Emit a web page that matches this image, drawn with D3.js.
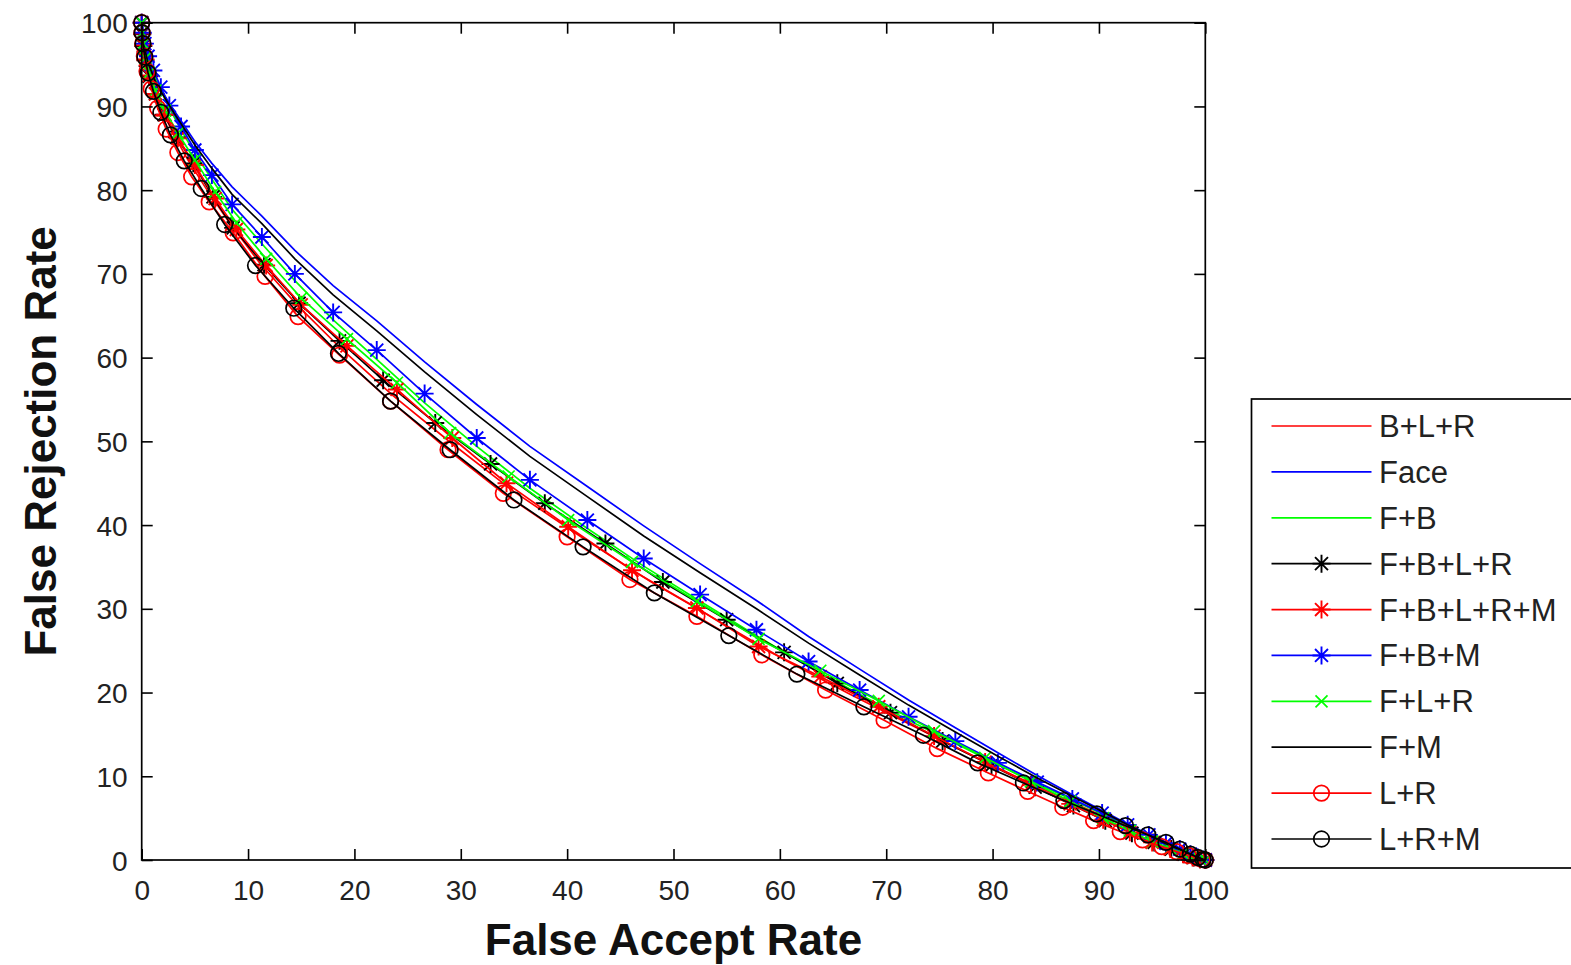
<!DOCTYPE html>
<html>
<head>
<meta charset="utf-8">
<script src="https://cdn.jsdelivr.net/npm/d3@7"></script>
<style>
  html, body { margin: 0; padding: 0; background: #fff; }
  svg { display: block; }
  text { font-family: "Liberation Sans", Arial, sans-serif; }
</style>
</head>
<body>
<svg id="chart" width="1571" height="965"></svg>
<script>
// ---------- DATA ([False Accept Rate, False Rejection Rate]) ----------
const xTicks = [0, 10, 20, 30, 40, 50, 60, 70, 80, 90, 100];
const yTicks = [0, 10, 20, 30, 40, 50, 60, 70, 80, 90, 100];
const xTitle = "False Accept Rate";
const yTitle = "False Rejection Rate";

const seriesNames = ["B+L+R", "Face", "F+B", "F+B+L+R", "F+B+L+R+M", "F+B+M", "F+L+R", "F+M", "L+R", "L+R+M"];

const dataBLR = [[0,100],[0.05,98.8],[0.15,97.5],[0.35,95.9],[0.7,94.0],[1.2,91.8],[2.0,89.3],[3.0,86.7],[4.3,83.7],[6.0,80.3],[8.2,76.2],[11.1,71.3],[14.6,66.3],[18.8,61.0],[23.6,55.5],[29.1,49.8],[35.0,44.0],[41.3,38.6],[47.8,33.3],[54.3,28.5],[60.6,23.8],[66.6,19.8],[72.2,16.2],[77.4,12.9],[82.0,10.1],[85.9,7.8],[89.2,5.9],[92.0,4.3],[94.3,3.1],[96.1,2.1],[97.5,1.3],[98.6,0.7],[99.4,0.3],[100,0]];

const dataFace = [[0,100],[0.15,97.6],[0.6,95.4],[1.4,92.8],[3.0,89.6],[5.0,85.8],[6.6,83.2],[8.5,80.4],[11.3,76.9],[14.4,72.8],[18.0,68.6],[22.1,64.4],[26.6,59.5],[31.5,54.4],[36.5,49.4],[41.9,44.6],[47.2,39.9],[52.5,35.4],[57.8,31.0],[62.7,26.7],[67.5,22.8],[72.1,19.1],[76.5,15.8],[80.5,12.8],[84.2,10.1],[87.5,7.8],[90.3,5.9],[92.7,4.3],[94.7,3.0],[96.3,2.0],[97.6,1.3],[98.6,0.7],[100,0]];

const dataFB = [[0,100],[0.1,98.7],[0.3,97.3],[0.6,95.8],[1.1,94.0],[1.8,92.0],[2.6,89.8],[3.7,87.2],[5.0,84.4],[6.6,81.3],[8.5,77.7],[11.3,73.6],[14.4,69.2],[18.0,64.5],[22.1,59.8],[26.6,54.6],[31.5,49.4],[36.5,44.4],[41.9,39.6],[47.2,35.1],[52.5,30.9],[57.8,26.8],[62.7,23.1],[67.5,19.8],[72.1,16.7],[76.5,13.9],[80.5,11.4],[84.2,9.1],[87.5,7.2],[90.3,5.5],[92.7,4.1],[94.7,2.9],[96.3,2.0],[97.6,1.2],[98.6,0.65],[99.3,0.3],[100,0]];

const dataFBLR = [[0,100],[0.05,98.6],[0.15,97.2],[0.35,95.5],[0.7,93.6],[1.3,91.5],[2.1,89.0],[3.3,86.3],[4.85,83.2],[6.7,79.2],[8.6,75.5],[11.5,71.1],[14.8,66.5],[18.6,62.0],[22.7,57.3],[27.6,52.2],[32.8,47.3],[37.9,42.6],[43.6,37.8],[49.0,33.2],[55.0,28.7],[60.4,24.8],[65.4,21.1],[70.4,17.6],[75.3,14.2],[79.9,11.3],[84.0,8.7],[87.6,6.5],[90.6,4.7],[93.1,3.2],[95.2,2.1],[96.8,1.3],[98.0,0.7],[98.9,0.3],[99.5,0.1],[100,0]];

const dataFBLRM = [[0,100],[0.05,98.7],[0.15,97.3],[0.35,95.6],[0.7,93.7],[1.3,91.5],[2.2,89.0],[3.4,86.2],[5.0,83.0],[6.9,79.0],[8.9,75.3],[11.7,71.0],[15.0,66.3],[19.3,61.4],[24.0,56.2],[29.2,50.4],[34.3,45.0],[40.1,39.8],[46.1,34.6],[52.2,30.1],[58.0,25.5],[63.8,21.9],[69.3,18.3],[74.5,14.8],[79.3,11.7],[83.6,9.0],[87.3,6.7],[90.4,4.8],[92.9,3.3],[95.0,2.1],[96.7,1.3],[97.9,0.7],[98.8,0.3],[99.5,0.1],[100,0]];

const dataFBM = [[0,100],[0.1,98.8],[0.3,97.5],[0.6,96.0],[1.1,94.3],[1.8,92.3],[2.6,90.1],[3.7,87.6],[5.0,84.8],[6.6,81.8],[8.5,78.3],[11.3,74.4],[14.4,70.0],[18.0,65.4],[22.1,60.9],[26.6,55.7],[31.5,50.4],[36.5,45.4],[41.9,40.6],[47.2,36.0],[52.5,31.7],[57.8,27.5],[62.7,23.7],[67.5,20.3],[72.1,17.1],[76.5,14.2],[80.5,11.6],[84.2,9.3],[87.5,7.3],[90.3,5.6],[92.7,4.2],[94.7,3.0],[96.3,2.0],[97.6,1.3],[98.6,0.7],[99.3,0.3],[100,0]];

const dataFLR = [[0,100],[0.05,98.8],[0.15,97.5],[0.35,95.8],[0.7,94.0],[1.3,91.9],[2.2,89.5],[3.4,86.8],[5.0,83.6],[6.9,79.8],[8.9,76.1],[11.7,71.8],[15.0,67.1],[19.3,62.2],[24.0,57.0],[29.0,51.0],[34.5,45.8],[40.1,40.6],[46.1,35.6],[52.2,30.9],[58.0,26.4],[63.8,22.6],[69.3,19.0],[74.5,15.4],[79.3,12.2],[83.6,9.4],[87.3,7.0],[90.4,5.0],[92.9,3.5],[95.0,2.2],[96.7,1.4],[97.9,0.75],[98.8,0.35],[99.5,0.1],[100,0]];

const dataFM = [[0,100],[0.15,97.5],[0.6,95.2],[1.4,92.6],[3.0,89.3],[5.0,85.4],[6.6,82.6],[8.5,79.5],[11.3,76.0],[14.4,71.8],[18.0,67.5],[22.1,63.2],[26.6,58.3],[31.5,53.2],[36.5,48.2],[41.9,43.4],[47.2,38.7],[52.5,34.3],[57.8,30.0],[62.7,25.9],[67.5,22.1],[72.1,18.5],[76.5,15.3],[80.5,12.4],[84.2,9.8],[87.5,7.6],[90.3,5.8],[92.7,4.2],[94.7,2.95],[96.3,1.95],[97.6,1.25],[98.6,0.65],[100,0]];

const dataLR = [[0,100],[0.03,98.8],[0.1,97.5],[0.25,96.0],[0.5,94.2],[0.9,92.1],[1.5,89.8],[2.3,87.3],[3.4,84.5],[4.7,81.6],[6.35,78.6],[8.6,74.9],[11.6,69.7],[14.7,64.9],[18.6,60.3],[23.4,54.8],[28.8,49.0],[34.0,43.8],[40.0,38.6],[45.9,33.5],[52.2,29.1],[58.3,24.5],[64.3,20.3],[69.8,16.7],[74.8,13.3],[79.6,10.4],[83.3,8.2],[86.6,6.3],[89.5,4.7],[92.0,3.4],[94.1,2.4],[95.9,1.6],[97.3,1.0],[98.4,0.55],[99.2,0.25],[99.7,0.08],[100,0]];

const dataLRM = [[0,100],[0.04,98.8],[0.12,97.5],[0.3,95.9],[0.6,94.0],[1.1,91.8],[1.8,89.3],[2.7,86.6],[4.0,83.5],[5.6,80.2],[7.8,75.9],[10.7,71.0],[14.3,65.9],[18.5,60.5],[23.4,54.8],[29.0,49.0],[35.0,43.0],[41.5,37.4],[48.2,31.9],[55.2,26.8],[61.6,22.2],[67.9,18.3],[73.5,14.9],[78.6,11.6],[82.9,9.2],[86.7,7.1],[89.8,5.5],[92.5,4.1],[94.6,3.0],[96.3,2.1],[97.6,1.3],[98.6,0.7],[99.3,0.3],[99.8,0.08],[100,0]];

const seriesData = [dataBLR, dataFace, dataFB, dataFBLR, dataFBLRM, dataFBM, dataFLR, dataFM, dataLR, dataLRM];
const seriesColors = ["#ff0000", "#0000ff", "#00ff00", "#000000", "#ff0000", "#0000ff", "#00ff00", "#000000", "#ff0000", "#000000"];
const seriesMarkers = ["none", "none", "none", "star", "star", "star", "x", "none", "circle", "circle"];

// ---------- LAYOUT ----------
const svg = d3.select("#chart");
const plotL = 141.7, plotR = 1205.3, plotT = 22.7, plotB = 860;
const x = d3.scaleLinear().domain([0, 100]).range([plotL, plotR]);
const y = d3.scaleLinear().domain([0, 100]).range([plotB, plotT]);
const tickLen = 11;
const fontTick = 28;
const lineW = 1.7;

svg.append("rect").attr("x", plotL).attr("y", plotT).attr("width", plotR - plotL).attr("height", plotB - plotT)
  .attr("fill", "#fff");

function drawMarker(g, type, cx, cy, color) {
  if (type === "circle") {
    g.append("circle").attr("cx", cx).attr("cy", cy).attr("r", 7.8)
      .attr("fill", "none").attr("stroke", color).attr("stroke-width", 1.7);
  } else if (type === "star") {
    const r = 9, d = r * 0.72;
    const p = `M${cx - r},${cy}L${cx + r},${cy}M${cx},${cy - r}L${cx},${cy + r}` +
              `M${cx - d},${cy - d}L${cx + d},${cy + d}M${cx - d},${cy + d}L${cx + d},${cy - d}`;
    g.append("path").attr("d", p).attr("stroke", color).attr("stroke-width", 1.9).attr("fill", "none");
  } else if (type === "x") {
    const d = 6;
    const p = `M${cx - d},${cy - d}L${cx + d},${cy + d}M${cx - d},${cy + d}L${cx + d},${cy - d}`;
    g.append("path").attr("d", p).attr("stroke", color).attr("stroke-width", 1.7).attr("fill", "none");
  }
}

const line = d3.line().x(d => x(d[0])).y(d => y(d[1]));
const plotG = svg.append("g");
seriesData.forEach((data, i) => {
  const g = plotG.append("g");
  g.append("path").datum(data).attr("d", line)
    .attr("fill", "none").attr("stroke", seriesColors[i]).attr("stroke-width", lineW);
  if (seriesMarkers[i] !== "none") {
    data.forEach(d => drawMarker(g, seriesMarkers[i], x(d[0]), y(d[1]), seriesColors[i]));
  }
});

const axB = svg.append("g").attr("transform", `translate(0,${plotB})`)
  .call(d3.axisBottom(x).tickValues(xTicks).tickSizeInner(-tickLen).tickSizeOuter(0).tickPadding(20));
const axL = svg.append("g").attr("transform", `translate(${plotL},0)`)
  .call(d3.axisLeft(y).tickValues(yTicks).tickSizeInner(-tickLen).tickSizeOuter(0).tickPadding(14));
const axT = svg.append("g").attr("transform", `translate(0,${plotT})`)
  .call(d3.axisTop(x).tickValues(xTicks).tickSizeInner(-tickLen).tickSizeOuter(0).tickFormat(""));
const axR = svg.append("g").attr("transform", `translate(${plotR},0)`)
  .call(d3.axisRight(y).tickValues(yTicks).tickSizeInner(-tickLen).tickSizeOuter(0).tickFormat(""));
[axB, axL, axT, axR].forEach(a => {
  a.select(".domain").remove();
  a.selectAll(".tick line").attr("stroke", "#000").attr("stroke-width", 1.6);
  a.selectAll(".tick text").attr("font-size", fontTick).attr("fill", "#222")
    .attr("font-family", "'Liberation Sans', Arial, sans-serif");
});
axL.selectAll(".tick text").attr("dy", "0.36em");

svg.append("rect").attr("x", plotL).attr("y", plotT).attr("width", plotR - plotL).attr("height", plotB - plotT)
  .attr("fill", "none").attr("stroke", "#000").attr("stroke-width", 1.7);

svg.append("text").attr("x", (plotL + plotR) / 2).attr("y", 955).attr("text-anchor", "middle")
  .attr("font-size", 44).attr("font-weight", "bold").attr("fill", "#111").text(xTitle);
svg.append("text").attr("transform", `translate(56,${(plotT + plotB) / 2}) rotate(-90)`)
  .attr("text-anchor", "middle").attr("font-size", 44).attr("font-weight", "bold").attr("fill", "#111").text(yTitle);

const legX = 1251.5, legY = 399, legW = 340, legH = 469;
const leg = svg.append("g");
leg.append("rect").attr("x", legX).attr("y", legY).attr("width", legW).attr("height", legH)
  .attr("fill", "#fff").attr("stroke", "#000").attr("stroke-width", 1.7);
const legRowY = d3.scalePoint().domain(seriesNames).range([426, 839]);
seriesNames.forEach((name, i) => {
  const yy = legRowY(name);
  leg.append("line").attr("x1", 1271.5).attr("x2", 1371.5).attr("y1", yy).attr("y2", yy)
    .attr("stroke", seriesColors[i]).attr("stroke-width", lineW);
  if (seriesMarkers[i] !== "none") drawMarker(leg, seriesMarkers[i], 1321.5, yy, seriesColors[i]);
  leg.append("text").attr("x", 1379).attr("y", yy + 11).attr("font-size", 31).attr("fill", "#222").text(name);
});
</script>
</body>
</html>
